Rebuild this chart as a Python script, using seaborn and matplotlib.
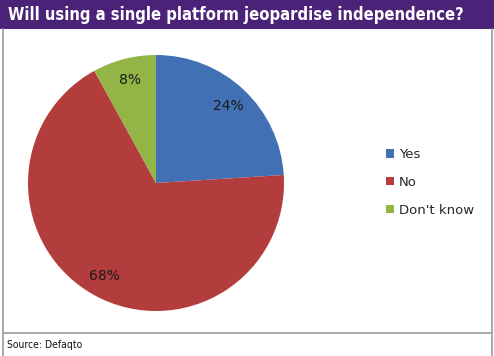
import matplotlib
matplotlib.use("Agg")
import matplotlib.pyplot as plt
import seaborn as sns
from matplotlib.patches import Rectangle, Patch
from matplotlib.lines import Line2D

categories = ["Yes", "No", "Don't know"]
values = [24, 68, 8]
colors = ["#4170B4", "#B33C3C", "#93B447"]
title = "Will using a single platform jeopardise independence?"
source = "Source: Defaqto"

sns.set_theme(style="white")
plt.rcParams['font.family'] = ['DejaVu Sans']

W, H = 494, 356
fig = plt.figure(figsize=(W / 100, H / 100), dpi=100)
fig.patch.set_facecolor("white")

def fx(px):
    return px / W

def fy(py):
    return 1 - py / H

# title bar
fig.patches.append(Rectangle((0, fy(29)), 1, 29 / H, transform=fig.transFigure,
                             facecolor="#4A2278", edgecolor="none", zorder=0))
fig.text(fx(8), fy(15), title, color="white", fontsize=11.9, fontweight="bold",
         fontstretch="condensed", va="center", ha="left")

# frame lines
frame_kw = dict(transform=fig.transFigure, color="#A0A0A8", lw=1.3)
fig.add_artist(Line2D([fx(2.5), fx(2.5)], [fy(29), 0], **frame_kw))
fig.add_artist(Line2D([fx(492), fx(492)], [fy(29), 0], **frame_kw))
fig.add_artist(Line2D([fx(2.5), fx(492)], [fy(333), fy(333)], **frame_kw))
fig.text(fx(7), fy(345), source, color="#111111", fontsize=7.5,
         fontstretch="condensed", va="center", ha="left")

# pie
cx, cy, r = 156, 183, 128
ax = fig.add_axes([fx(cx - r), fy(cy + r), 2 * r / W, 2 * r / H])
wedges, texts, autotexts = ax.pie(values, colors=colors, startangle=90, counterclock=False,
                                  autopct="%d%%", pctdistance=0.83,
                                  wedgeprops=dict(linewidth=0),
                                  textprops=dict(color="#1A1A1A", fontsize=10))
ax.set_xlim(-1, 1)
ax.set_ylim(-1, 1)
ax.set_aspect("equal")
ax.axis("off")

handles = [Patch(facecolor=c, edgecolor="none") for c in colors]
fig.legend(handles, categories, loc="upper left", bbox_to_anchor=(fx(386), fy(148)),
           frameon=False, fontsize=9.5, handlelength=0.6, handleheight=0.6,
           handletextpad=0.4, labelspacing=1.12, borderaxespad=0, borderpad=0)

fig.savefig("out.png", dpi=100)
